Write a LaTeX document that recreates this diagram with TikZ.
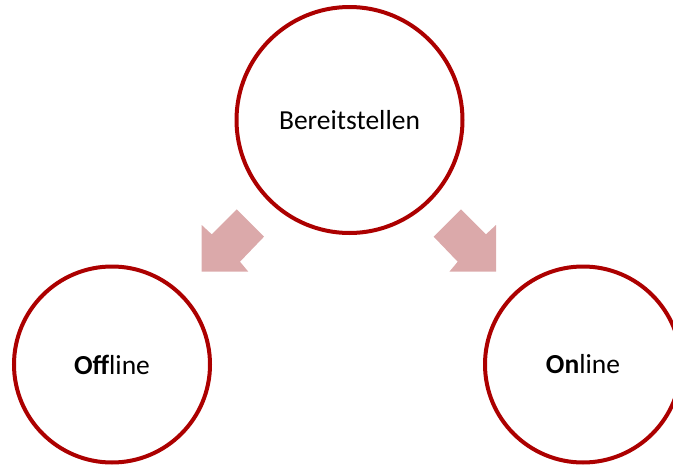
\documentclass[tikz,border=0pt]{standalone}
\usepackage{fontspec}
\setmainfont{Carlito}
\definecolor{ringred}{RGB}{172,0,0}
\definecolor{arrowpink}{RGB}{219,169,170}
\begin{document}
\begin{tikzpicture}[x=1pt,y=-1pt,
  ring/.style={circle,draw=ringred,line width=4pt,fill=white,inner sep=0pt,
    font=\fontsize{27.5}{33}\selectfont},
  blockarrow/.style={fill=arrowpink,draw=none}]
\useasboundingbox (0,0) rectangle (673,466);
\node[ring,minimum size=226pt] (top) at (349.5,120) {Bereitstellen};
\node[ring,minimum size=196pt] (off) at (112,364.5) {\textbf{Off}line};
\node[ring,minimum size=196pt] (on) at (583,364.5) {\textbf{On}line};
% left block arrow (down-left)
\fill[blockarrow] (236.7,209.3) -- (264,236.7) -- (240,261.7) -- (248.3,271.7)
  -- (201.7,271.7) -- (201.7,225) -- (211.7,234.3) -- cycle;
% right block arrow (down-right)
\fill[blockarrow] (461,209.3) -- (433.7,236.7) -- (457.7,261.7) -- (449.4,271.7)
  -- (496,271.7) -- (496,225) -- (486,234.3) -- cycle;
\end{tikzpicture}
\end{document}
